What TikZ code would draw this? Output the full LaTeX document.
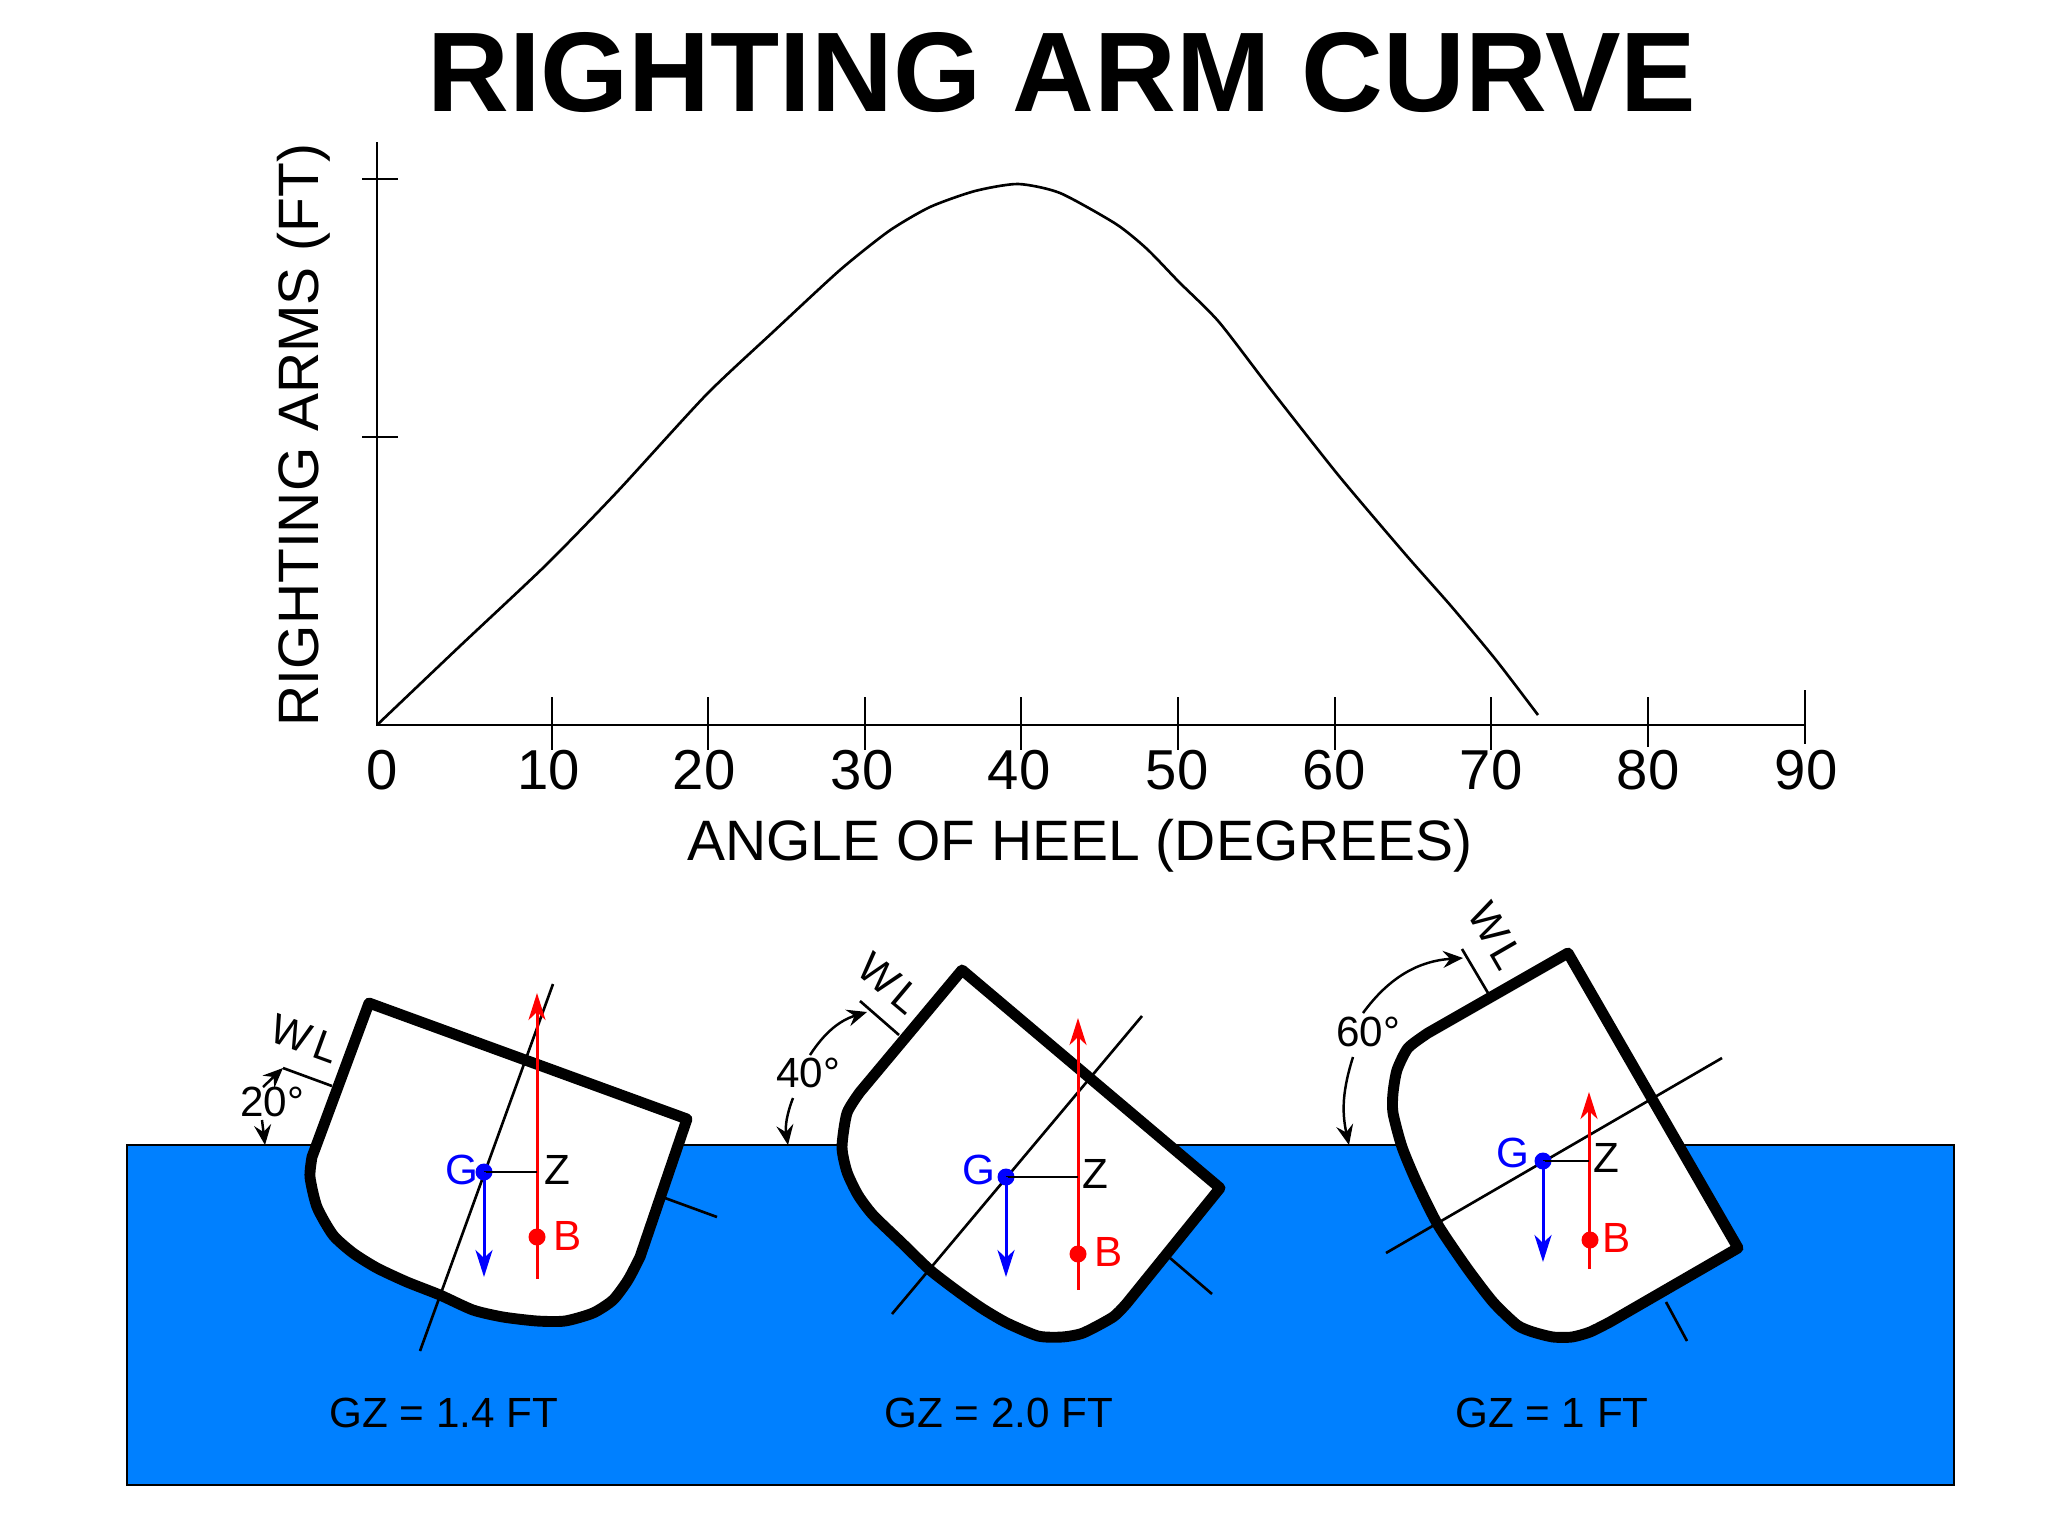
\documentclass[tikz,border=0pt]{standalone}
\usepackage{fontspec}
\setmainfont{Liberation Sans}
\usetikzlibrary{arrows.meta}
\definecolor{seablue}{RGB}{0,128,255}
\tikzset{
  hull/.style={draw=black,fill=white,line width=3.1pt,line join=round},
  thin line/.style={line width=0.75pt},
  big arrow/.style={-{Stealth[length=0.27cm,width=0.17cm,inset=0.08cm]},line width=0.85pt},
  small arrow/.style={-{Stealth[length=0.2cm,width=0.17cm,inset=0.07cm]},line width=0.7pt},
  dot/.style={circle,inner sep=0pt,minimum size=0.17cm},
  axis label/.style={font=\fontsize{16.2}{18}\selectfont},
  tick label/.style={font=\fontsize{16}{18}\selectfont},
  ship label/.style={font=\fontsize{12}{14}\selectfont},
  gz label/.style={font=\fontsize{12}{14}\selectfont},
}
\begin{document}
\begin{tikzpicture}[x=0.01cm,y=-0.01cm]
\useasboundingbox (0,0) rectangle (2048,1536);
% title and axes
\node[font=\fontsize{32.2}{36}\selectfont\bfseries] (title) at (1062,73) {RIGHTING ARM CURVE};
\node[axis label,rotate=90] (ylabel) at (304,435) {RIGHTING ARMS (FT)};
\node[axis label] (xlabel) at (1080,846) {ANGLE OF HEEL (DEGREES)};
\coordinate (origin) at (377,725);
\coordinate (ytop) at (377,142);
\coordinate (xend) at (1805,725);
\draw[thin line] (ytop) -- (origin) -- (xend);
\draw[thin line] (362,179) -- (398,179);
\draw[thin line] (362,437) -- (398,437);
\draw[thin line] (552,697) -- (552,750);
\draw[thin line] (708,697) -- (708,750);
\draw[thin line] (865,697) -- (865,750);
\draw[thin line] (1021,697) -- (1021,750);
\draw[thin line] (1178,697) -- (1178,750);
\draw[thin line] (1335,697) -- (1335,750);
\draw[thin line] (1491,697) -- (1491,750);
\draw[thin line] (1648,697) -- (1648,747);
\draw[thin line] (1805,690) -- (1805,744);
\node[tick label] (t0) at (382,770) {0};
\node[tick label] (t10) at (549,770) {10};
\node[tick label] (t20) at (704,770) {20};
\node[tick label] (t30) at (862,770) {30};
\node[tick label] (t40) at (1019,770) {40};
\node[tick label] (t50) at (1177,770) {50};
\node[tick label] (t60) at (1334,770) {60};
\node[tick label] (t70) at (1491,770) {70};
\node[tick label] (t80) at (1648,770) {80};
\node[tick label] (t90) at (1806,770) {90};
% the curve
\draw[thin line] plot[smooth,tension=0.4] coordinates {(377,725) (460,646) (546,565) (617,492) (706,395) (773,332) (840,270) (889,231) (930,207) (975,191) (1018,184) (1060,193) (1116,224) (1147,249) (1179,282) (1219,322) (1272,391) (1339,476) (1406,555) (1451,606) (1496,660) (1538,715)};
% water
\draw[thin line,fill=seablue] (127,1145) rectangle (1954,1485);
\coordinate (surfa) at (265,1145);
\coordinate (surfb) at (788,1145);
\coordinate (surfc) at (1349,1145);
% ship at 20
\draw[hull] (369,1003) -- (687,1119) -- (640,1257) -- plot[smooth,tension=0.4] coordinates {(640,1257) (628,1280) (613,1300) (593,1313) (565,1321) (537,1321) (503,1317) (473,1310) (440,1295) (407,1282) (377,1268) (353,1253) (333,1235) (317,1207) (310,1177) (312,1157)} -- cycle;
\coordinate (ca) at (553,984);
\coordinate (cb) at (420,1351);
\draw[thin line] (ca) -- (cb);
\coordinate (wa) at (283,1068);
\coordinate (wb) at (332,1086);
\draw[thin line] (wa) -- (wb);
\coordinate (wc) at (665,1198);
\coordinate (wd) at (717,1217);
\draw[thin line] (wc) -- (wd);
\node[ship label,rotate=-20] (wlone) at (305,1039) {W\kern1.5pt L};
\node[ship label] (angone) at (272,1102) {20°};
\coordinate (arca) at (262,1120);
\draw[small arrow] (arca) -- (surfa);
\coordinate (arcb) at (263,1087);
\draw[small arrow] (arcb) -- (wa);
\coordinate (rbot) at (537,1279);
\coordinate (rtop) at (537,993);
\draw[big arrow,red] (rbot) -- (rtop);
\node[ship label,text=blue] (gtext) at (462,1170) {G};
\node[dot,fill=blue] (gone) at (484,1172) {};
\node[dot,fill=red] (bone) at (537,1237) {};
\coordinate (zone) at (537,1172);
\draw[thin line] (gone.center) -- (zone);
\coordinate (gdown) at (484,1277);
\draw[big arrow,blue] (gone.center) -- (gdown);
\node[ship label] (ztext) at (557,1170) {Z};
\node[ship label,text=red] (btext) at (568,1236) {B};
\node[gz label] (gzone) at (444,1413) {GZ = 1.4 FT};
% ship at 40
\draw[hull] (962,970) -- (1220,1188) -- (1127,1303) -- plot[smooth,tension=0.4] coordinates {(1127,1303) (1113,1317) (1083,1333) (1062,1337) (1038,1336) (1007,1323) (983,1309) (960,1293) (930,1270) (902,1243) (873,1215) (858,1195) (847,1172) (842,1147) (847,1113) (860,1092)} -- cycle;
\coordinate (cc) at (1142,1016);
\coordinate (cd) at (892,1314);
\draw[thin line] (cc) -- (cd);
\coordinate (we) at (860,1001);
\coordinate (wf) at (899,1035);
\draw[thin line] (we) -- (wf);
\coordinate (wg) at (1170,1258);
\coordinate (wh) at (1212,1294);
\draw[thin line] (wg) -- (wh);
\node[ship label,rotate=-40] (wltwo) at (890,983) {W\kern1.5pt L};
\node[ship label] (angtwo) at (808,1073) {40°};
\coordinate (arcc) at (793,1098);
\draw[small arrow] (arcc) to[bend right=15] (surfb);
\coordinate (arcd) at (810,1055);
\coordinate (tipb) at (867,1012);
\draw[small arrow] (arcd) to[bend left=20] (tipb);
\coordinate (rbotb) at (1078,1290);
\coordinate (rtopb) at (1078,1018);
\draw[big arrow,red] (rbotb) -- (rtopb);
\node[ship label,text=blue] (gtextb) at (979,1170) {G};
\node[dot,fill=blue] (gtwo) at (1006,1177) {};
\node[dot,fill=red] (btwo) at (1078,1254) {};
\coordinate (ztwo) at (1078,1177);
\draw[thin line] (gtwo.center) -- (ztwo);
\coordinate (gdownb) at (1006,1277);
\draw[big arrow,blue] (gtwo.center) -- (gdownb);
\node[ship label] (ztextb) at (1095,1174) {Z};
\node[ship label,text=red] (btextb) at (1109,1252) {B};
\node[gz label] (gztwo) at (999,1413) {GZ = 2.0 FT};
% ship at 60
\draw[hull] (1568,953) -- (1738,1248) -- (1610,1322) -- plot[smooth,tension=0.4] coordinates {(1610,1322) (1590,1332) (1572,1337) (1553,1337) (1533,1332) (1517,1325) (1493,1302) (1467,1268) (1438,1225) (1417,1183) (1402,1147) (1393,1113) (1393,1093) (1397,1070) (1408,1048) (1428,1033)} -- cycle;
\coordinate (ce) at (1722,1058);
\coordinate (cf) at (1386,1253);
\draw[thin line] (ce) -- (cf);
\coordinate (wi) at (1462,949);
\coordinate (wj) at (1488,993);
\draw[thin line] (wi) -- (wj);
\coordinate (wk) at (1666,1302);
\coordinate (wl) at (1687,1341);
\draw[thin line] (wk) -- (wl);
\node[ship label,rotate=-60] (wlthree) at (1496,936) {W\kern1.5pt L};
\node[ship label] (angthree) at (1368,1032) {60°};
\coordinate (arce) at (1353,1057);
\draw[small arrow] (arce) to[bend right=15] (surfc);
\coordinate (arcf) at (1363,1013);
\coordinate (tipc) at (1463,958);
\draw[small arrow] (arcf) to[bend left=25] (tipc);
\coordinate (rbotc) at (1589,1269);
\coordinate (rtopc) at (1589,1092);
\draw[big arrow,red] (rbotc) -- (rtopc);
\node[ship label,text=blue] (gtextc) at (1513,1153) {G};
\node[dot,fill=blue] (gthree) at (1543,1161) {};
\node[dot,fill=red] (bthree) at (1590,1240) {};
\coordinate (zthree) at (1589,1161);
\draw[thin line] (gthree.center) -- (zthree);
\coordinate (gdownc) at (1543,1262);
\draw[big arrow,blue] (gthree.center) -- (gdownc);
\node[ship label] (ztextc) at (1606,1158) {Z};
\node[ship label,text=red] (btextc) at (1617,1238) {B};
\node[gz label] (gzthree) at (1552,1413) {GZ = 1 FT};
\end{tikzpicture}
\end{document}
